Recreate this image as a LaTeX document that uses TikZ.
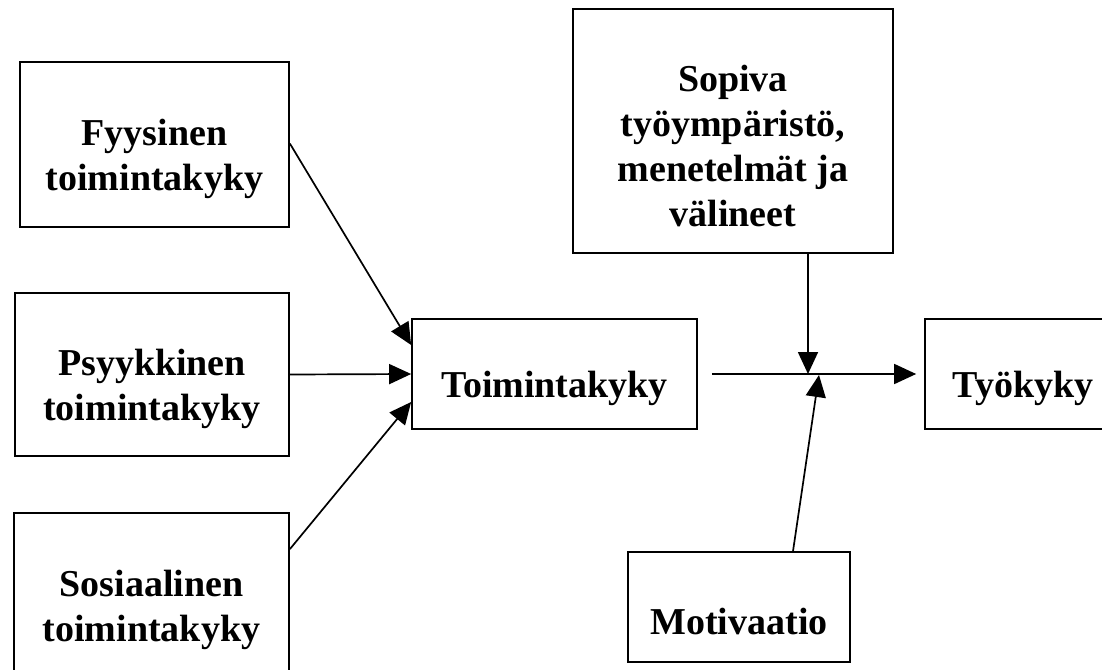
\documentclass[tikz,border=0pt]{standalone}
\usepackage{fontspec}
\setmainfont{Liberation Serif}
\usetikzlibrary{arrows.meta,calc}
\newcommand\tstrut{\rule{0pt}{56pt}}
\begin{document}
\begin{tikzpicture}[x=1pt,y=-1pt,
  box/.style={draw=black,line width=1.7pt,align=center,inner sep=0pt,
    font=\fontsize{38}{45}\selectfont\bfseries},
  conn/.style={line width=1.7pt,-{Triangle[length=22pt,width=20pt]}}]
\useasboundingbox (0,0) rectangle (1102,669);
\node[box,minimum width=269,minimum height=165] (fyy) at (154.5,144.5) {\tstrut Fyysinen\\toimintakyky};
\node[box,minimum width=274,minimum height=163] (psy) at (152,374.5) {\tstrut Psyykkinen\\toimintakyky};
\node[box,minimum width=275,minimum height=165] (sos) at (151.5,595.5) {\tstrut Sosiaalinen\\toimintakyky};
\node[box,minimum width=285,minimum height=110] (toim) at (554.5,374) {\tstrut Toimintakyky};
\node[box,minimum width=320,minimum height=244] (sop) at (733,131) {\tstrut Sopiva\\työympäristö,\\menetelmät ja\\välineet};
\node[box,minimum width=222,minimum height=110] (mot) at (739,607) {\tstrut Motivaatio};
\node[box,minimum width=196,minimum height=110] (tyo) at (1023,374) {\tstrut Työkyky};
\coordinate (J) at (808,374);
\draw[conn] ($(fyy.east)+(0,-1)$) -- ($(toim.west)+(0,-29)$);
\draw[conn] (psy.east) -- (toim.west);
\draw[conn] ($(sos.north east)+(0,37)$) -- ($(toim.west)+(0,28)$);
\draw[conn,shorten <=14pt,shorten >=8pt] (toim.east) -- (tyo.west);
\draw[conn] (J |- sop.south) -- (J);
\draw[conn] ($(mot.north)+(54,0)$) -- ($(J)+(11,1)$);
\end{tikzpicture}
\end{document}
